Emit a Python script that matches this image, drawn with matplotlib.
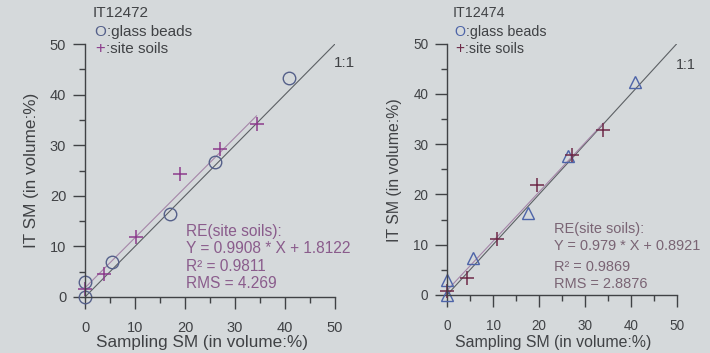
import matplotlib
matplotlib.use("Agg")
import matplotlib.pyplot as plt
from matplotlib.ticker import MultipleLocator

plt.rcParams['font.family'] = ['Liberation Sans', 'DejaVu Sans']

# IT12472
a_glass_x = [0, 0, 5.3, 16.9, 25.9, 40.8]
a_glass_y = [0, 2.9, 7.0, 16.5, 26.7, 43.3]
a_soil_x = [0, 3.8, 10.2, 18.9, 26.9, 34.3]
a_soil_y = [1.5, 4.5, 11.9, 24.3, 29.2, 34.2]
a_fit = (0.9908, 1.8122)
a_text = ["RE(site soils):", "Y = 0.9908 * X + 1.8122", "R\u00b2 = 0.9811", "RMS = 4.269"]

# IT12474
b_glass_x = [0, 0, 5.7, 17.5, 26.2, 40.9]
b_glass_y = [0, 3.0, 7.3, 16.4, 27.6, 42.4]
b_soil_x = [0, 4.3, 10.8, 19.5, 27.1, 34.0]
b_soil_y = [0.7, 3.4, 11.1, 21.9, 27.8, 32.8]
b_fit = (0.979, 0.8921)
b_text = ["RE(site soils):", "Y = 0.979 * X + 0.8921", "R\u00b2 = 0.9869", "RMS = 2.8876"]

ticks = [0, 10, 20, 30, 40, 50]
xlabel = "Sampling SM (in volume:%)"
ylabel = "IT SM (in volume:%)"

bg = "#d5d9db"
ink = "#404245"
W, H = 710, 353

fig = plt.figure(figsize=(7.1, 3.53), dpi=100, facecolor=bg)


def px(x, y):
    return x / W, 1 - y / H


def panel(rect, title, gx, gy, sx, sy, fit, lines, gmark, gcol, scol, tcol,
          legx, textx, texty, ylabx, xlab, one, k=1.0):
    ax = fig.add_axes(rect)
    ax.set_facecolor(bg)
    ax.set_xlim(0, 50)
    ax.set_ylim(0, 50)
    for s in ['top', 'right']:
        ax.spines[s].set_visible(False)
    for s in ['left', 'bottom']:
        ax.spines[s].set_color(ink)
        ax.spines[s].set_linewidth(1.0)
    ax.set_xticks(ticks)
    ax.set_yticks(ticks)
    ax.xaxis.set_minor_locator(MultipleLocator(5))
    ax.yaxis.set_minor_locator(MultipleLocator(5))
    ax.tick_params(which='major', length=8.5, width=1, color=ink, labelcolor=ink,
                   labelsize=10.5 * k, pad=5)
    ax.tick_params(which='minor', length=4.3, width=1, color=ink)
    ax.tick_params(axis='x', which='major', pad=8.5)

    ax.plot([0, 50], [0, 50], color="#5c6064", lw=0.8)
    fx = [0, max(sx)]
    ax.plot(fx, [fit[0] * v + fit[1] for v in fx], color="#a585a8", lw=0.8)
    ax.plot(gx, gy, linestyle='none', marker=gmark, ms=9 if gmark == 'o' else 8,
            mfc='none', mec=gcol, mew=1.0, clip_on=False)
    ax.plot(sx, sy, linestyle='none', marker='+', ms=10, mec=scol, mew=1.1,
            clip_on=False)
    ax.text(one[0], one[1], "1:1", color=ink, fontsize=11 * k, va='center',
            clip_on=False)

    fig.text(*px(ylabx, 170), ylabel, rotation=90, ha='center', va='center',
             color=ink, fontsize=12.3 * k)
    fig.text(*px(xlab, 342), xlabel, ha='center', va='center', color=ink,
             fontsize=12.3 * k)

    fig.text(*px(legx, 13), title, ha='left', va='center', color=ink, fontsize=11 * k)
    fig.text(*px(legx + 1, 32), "O", ha='left', va='center', color=gcol,
             fontsize=11 * k)
    fig.text(*px(legx + 14 * k, 32), ":glass beads", ha='left', va='center',
             color=ink, fontsize=11 * k)
    fig.text(*px(legx + 2, 49), "+", ha='left', va='center', color=scol,
             fontsize=12 * k)
    fig.text(*px(legx + 13 * k, 49), ":site soils", ha='left', va='center',
             color=ink, fontsize=11 * k)

    for t, yy in zip(lines, texty):
        fig.text(*px(textx, yy), t, ha='left', va='center', color=tcol,
                 fontsize=11.2 * k)
    return ax


panel([85 / W, (H - 297) / H, 250 / W, 253 / H], "IT12472",
      a_glass_x, a_glass_y, a_soil_x, a_soil_y, a_fit, a_text, 'o',
      "#55608a", "#8c3c8c", "#8a5c8c", 93, 186, [231.7, 248.3, 266.7, 283.3],
      32, 202, (49.8, 46.2))

panel([447 / W, (H - 295) / H, 230 / W, 251.5 / H], "IT12474",
      b_glass_x, b_glass_y, b_soil_x, b_soil_y, b_fit, b_text, '^',
      "#4d64a8", "#6e2a48", "#7a6474", 453, 554, [229.3, 246, 266.7, 284.3],
      394, 553, (49.8, 45.7), k=0.93)

fig.savefig("out.png", dpi=100, facecolor=bg)
